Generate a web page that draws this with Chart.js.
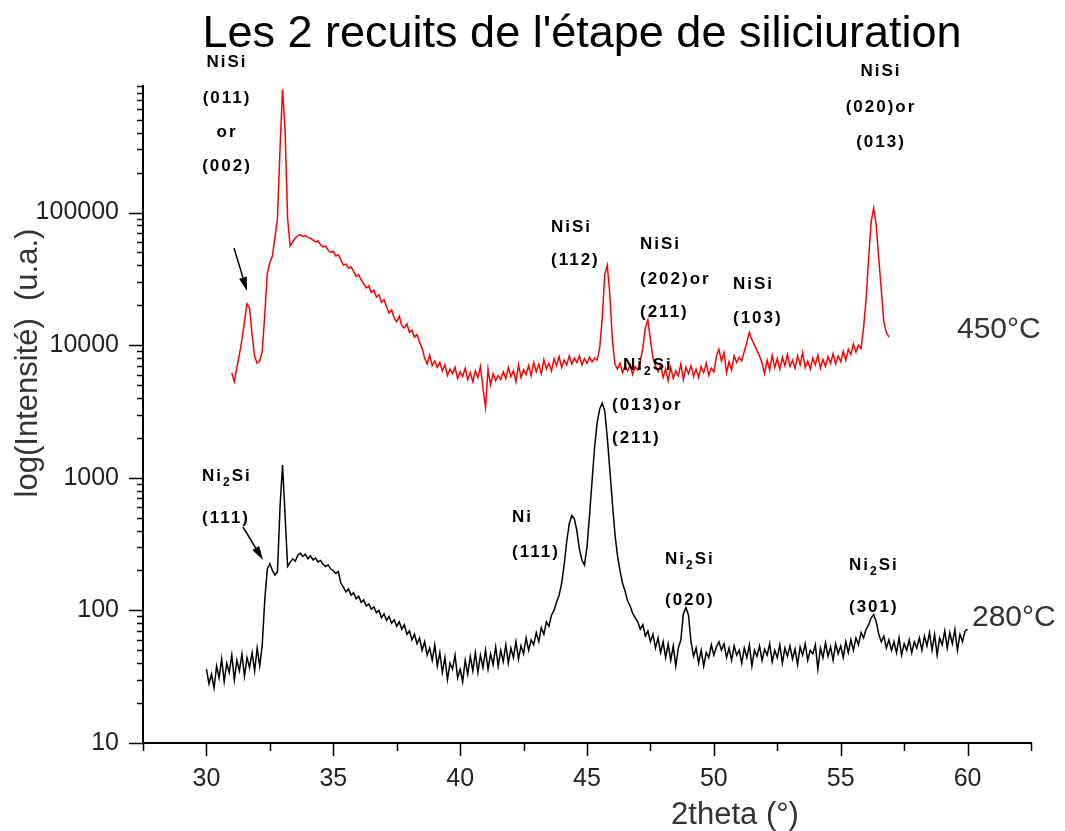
<!DOCTYPE html>
<html>
<head>
<meta charset="utf-8">
<script src="https://cdn.jsdelivr.net/npm/chart.js@4/dist/chart.umd.min.js"></script>
<style>
  html, body { margin: 0; padding: 0; background: #fff; }
  #wrap { width: 1065px; height: 831px; }
</style>
</head>
<body>
<div id="wrap"><canvas id="c" width="1065" height="831"></canvas></div>
<script>
// 2theta scan positions (°) and intensities (u.a.) for the two anneals
const twoTheta450 = [
  31.0,31.1,31.2,31.3,31.4,31.5,31.6,31.7,31.8,31.9,
  32.0,32.1,32.2,32.3,32.4,32.5,32.6,32.7,32.8,32.9,
  33.0,33.1,33.2,33.3,33.4,33.5,33.6,33.7,33.8,33.9,
  34.0,34.1,34.2,34.3,34.4,34.5,34.6,34.7,34.8,34.9,
  35.0,35.1,35.2,35.3,35.4,35.5,35.6,35.7,35.8,35.9,
  36.0,36.1,36.2,36.3,36.4,36.5,36.6,36.7,36.8,36.9,
  37.0,37.1,37.2,37.3,37.4,37.5,37.6,37.7,37.8,37.9,
  38.0,38.1,38.2,38.3,38.4,38.5,38.6,38.7,38.8,38.9,
  39.0,39.1,39.2,39.3,39.4,39.5,39.6,39.7,39.8,39.9,
  40.0,40.1,40.2,40.3,40.4,40.5,40.6,40.7,40.8,40.9,
  41.0,41.1,41.2,41.3,41.4,41.5,41.6,41.7,41.8,41.9,
  42.0,42.1,42.2,42.3,42.4,42.5,42.6,42.7,42.8,42.9,
  43.0,43.1,43.2,43.3,43.4,43.5,43.6,43.7,43.8,43.9,
  44.0,44.1,44.2,44.3,44.4,44.5,44.6,44.7,44.8,44.9,
  45.0,45.1,45.2,45.3,45.4,45.5,45.6,45.7,45.8,45.9,
  46.0,46.1,46.2,46.3,46.4,46.5,46.6,46.7,46.8,46.9,
  47.0,47.1,47.2,47.3,47.4,47.5,47.6,47.7,47.8,47.9,
  48.0,48.1,48.2,48.3,48.4,48.5,48.6,48.7,48.8,48.9,
  49.0,49.1,49.2,49.3,49.4,49.5,49.6,49.7,49.8,49.9,
  50.0,50.1,50.2,50.3,50.4,50.5,50.6,50.7,50.8,50.9,
  51.0,51.1,51.2,51.3,51.4,51.5,51.6,51.7,51.8,51.9,
  52.0,52.1,52.2,52.3,52.4,52.5,52.6,52.7,52.8,52.9,
  53.0,53.1,53.2,53.3,53.4,53.5,53.6,53.7,53.8,53.9,
  54.0,54.1,54.2,54.3,54.4,54.5,54.6,54.7,54.8,54.9,
  55.0,55.1,55.2,55.3,55.4,55.5,55.6,55.7,55.8,55.9,
  56.0,56.1,56.2,56.3,56.4,56.5,56.6,56.7,56.8,56.9
];
const intensity450 = [
  6200,5300,6800,8500,11000,15000,20500,19000,12000,8200,
  7300,7600,9000,17000,35000,42000,47000,65000,90000,300000,
  850000,420000,90000,56000,60000,64000,67000,68000,66000,67000,
  65000,64000,62000,60000,61000,57000,55000,56000,52000,50000,
  51000,47000,48000,44000,40000,41000,38000,39000,36000,33000,
  34000,31000,29000,27000,28000,25000,26000,23000,24000,21000,
  22000,19500,17500,18500,16000,15000,16500,14000,13500,14500,
  12500,13000,11500,12000,10500,9500,8000,7200,8400,7000,
  7600,6800,7400,6400,7100,5900,6600,6100,6800,5600,
  6300,5800,6700,5500,6200,5300,6400,5700,6900,4700,
  3400,6600,5000,6100,5400,5900,5500,6300,5600,6800,
  5800,6400,5300,7100,5700,6500,6000,7000,5900,7400,
  6300,7200,6100,7800,6600,7300,6400,7900,7000,8200,
  6800,7700,7100,8300,7200,8000,7400,8300,7100,7900,
  7300,8100,7500,8000,7700,9500,16000,34000,40000,24000,
  11000,7200,6600,7300,6200,7000,6400,7100,6000,6900,
  6500,7600,9500,13500,15500,11000,8000,7000,6300,7100,
  5700,6600,5400,6800,5600,6400,5900,7200,5500,6800,
  6100,7000,5800,6600,5700,6900,6200,7300,5900,6700,
  6300,8200,9300,7600,8800,6200,7500,6500,8300,7400,
  8100,7600,9000,10500,12500,11000,10000,9100,8300,7300,
  6100,7700,6500,8400,6800,7900,6600,8100,7000,8500,
  6900,7700,6700,8300,7100,8800,6800,7600,6600,8000,
  7100,8400,6700,7800,6900,8200,7300,8600,7200,8300,
  7500,9000,7700,9300,8500,10200,8900,10000,9400,13500,
  22000,45000,85000,108000,80000,45000,26000,15000,12500,11500
];
const twoTheta280 = [
  30.0,30.1,30.2,30.3,30.4,30.5,30.6,30.7,30.8,30.9,
  31.0,31.1,31.2,31.3,31.4,31.5,31.6,31.7,31.8,31.9,
  32.0,32.1,32.2,32.3,32.4,32.5,32.6,32.7,32.8,32.9,
  33.0,33.1,33.2,33.3,33.4,33.5,33.6,33.7,33.8,33.9,
  34.0,34.1,34.2,34.3,34.4,34.5,34.6,34.7,34.8,34.9,
  35.0,35.1,35.2,35.3,35.4,35.5,35.6,35.7,35.8,35.9,
  36.0,36.1,36.2,36.3,36.4,36.5,36.6,36.7,36.8,36.9,
  37.0,37.1,37.2,37.3,37.4,37.5,37.6,37.7,37.8,37.9,
  38.0,38.1,38.2,38.3,38.4,38.5,38.6,38.7,38.8,38.9,
  39.0,39.1,39.2,39.3,39.4,39.5,39.6,39.7,39.8,39.9,
  40.0,40.1,40.2,40.3,40.4,40.5,40.6,40.7,40.8,40.9,
  41.0,41.1,41.2,41.3,41.4,41.5,41.6,41.7,41.8,41.9,
  42.0,42.1,42.2,42.3,42.4,42.5,42.6,42.7,42.8,42.9,
  43.0,43.1,43.2,43.3,43.4,43.5,43.6,43.7,43.8,43.9,
  44.0,44.1,44.2,44.3,44.4,44.5,44.6,44.7,44.8,44.9,
  45.0,45.1,45.2,45.3,45.4,45.5,45.6,45.7,45.8,45.9,
  46.0,46.1,46.2,46.3,46.4,46.5,46.6,46.7,46.8,46.9,
  47.0,47.1,47.2,47.3,47.4,47.5,47.6,47.7,47.8,47.9,
  48.0,48.1,48.2,48.3,48.4,48.5,48.6,48.7,48.8,48.9,
  49.0,49.1,49.2,49.3,49.4,49.5,49.6,49.7,49.8,49.9,
  50.0,50.1,50.2,50.3,50.4,50.5,50.6,50.7,50.8,50.9,
  51.0,51.1,51.2,51.3,51.4,51.5,51.6,51.7,51.8,51.9,
  52.0,52.1,52.2,52.3,52.4,52.5,52.6,52.7,52.8,52.9,
  53.0,53.1,53.2,53.3,53.4,53.5,53.6,53.7,53.8,53.9,
  54.0,54.1,54.2,54.3,54.4,54.5,54.6,54.7,54.8,54.9,
  55.0,55.1,55.2,55.3,55.4,55.5,55.6,55.7,55.8,55.9,
  56.0,56.1,56.2,56.3,56.4,56.5,56.6,56.7,56.8,56.9,
  57.0,57.1,57.2,57.3,57.4,57.5,57.6,57.7,57.8,57.9,
  58.0,58.1,58.2,58.3,58.4,58.5,58.6,58.7,58.8,58.9,
  59.0,59.1,59.2,59.3,59.4,59.5,59.6,59.7,59.8,59.9,
  60.0
];
const intensity280 = [
  36,28,33,26,38,31,43,29,40,34,
  46,30,42,35,47,32,44,37,48,35,
  52,38,55,120,205,225,200,185,195,600,
  1250,520,215,230,245,235,260,270,255,265,
  245,258,240,248,232,238,222,215,220,205,
  200,190,196,160,150,138,145,130,136,122,
  128,115,120,108,112,102,106,96,100,88,
  94,84,90,80,85,76,82,72,78,66,
  70,60,66,56,62,50,58,46,52,42,
  55,38,48,34,44,30,40,36,46,31,
  36,29,42,33,45,35,48,34,46,37,
  50,36,47,39,53,38,50,41,55,40,
  52,44,58,43,54,47,62,50,60,55,
  68,58,74,66,82,76,92,100,115,130,
  160,220,330,450,520,490,400,290,240,220,
  300,520,950,1700,2600,3300,3650,3200,2000,1150,
  650,380,260,200,160,140,118,108,95,88,
  82,72,78,64,70,58,66,52,62,48,
  58,44,56,42,54,38,52,60,95,105,
  92,58,45,52,40,50,38,48,44,55,
  46,53,58,50,56,44,52,42,54,46,
  50,40,52,44,55,38,50,45,54,42,
  51,46,56,41,50,44,55,40,52,45,
  54,43,51,39,53,46,56,42,50,47,
  55,36,52,44,57,45,53,42,56,47,
  54,44,58,48,60,50,62,55,68,62,
  72,78,88,93,82,66,58,64,52,60,
  50,58,48,62,46,56,50,60,48,58,
  52,62,50,64,54,68,50,66,46,62,
  55,70,52,68,56,72,50,66,58,70,
  72
];

// axis tick positions and the ones carrying a label
const xTickValues = [27.5,30,32.5,35,37.5,40,42.5,45,47.5,50,52.5,55,57.5,60,62.5];
const xLabelValues = [30,35,40,45,50,55,60];
const yTickValues = [
  10,20,30,40,50,60,70,80,90,
  100,200,300,400,500,600,700,800,900,
  1000,2000,3000,4000,5000,6000,7000,8000,9000,
  10000,20000,30000,40000,50000,60000,70000,80000,90000,
  100000,200000,300000,400000,500000,600000,700000,800000,900000
];
const yLabelValues = [10,100,1000,10000,100000];

const titleText = "Les 2 recuits de l'étape de siliciuration";
const xTitleText = '2theta (°)';
const yTitleText = 'log(Intensité)  (u.a.)';
const seriesLabels = ['450°C', '280°C'];

// peak indexations: lines of text, "_2" marks a subscript 2
const peakNotes = [
  { align: 'center', x: 226, lines: [['NiSi', 62], ['(011)', 98], ['or', 132], ['(002)', 166]] },
  { align: 'left', x: 551, lines: [['NiSi', 227], ['(112)', 260]] },
  { align: 'left', x: 640, lines: [['NiSi', 244], ['(202)or', 279], ['(211)', 312]] },
  { align: 'left', x: 733, lines: [['NiSi', 284], ['(103)', 318]] },
  { align: 'center', x: 880, lines: [['NiSi', 71], ['(020)or', 107], ['(013)', 142]] },
  { align: 'left', x: 623, lines: [['Ni_2Si', 365]] },
  { align: 'left', x: 612, lines: [['(013)or', 405], ['(211)', 438]] },
  { align: 'left', x: 202, lines: [['Ni_2Si', 476], ['(111)', 518]] },
  { align: 'left', x: 512, lines: [['Ni', 517], ['(111)', 552]] },
  { align: 'left', x: 665, lines: [['Ni_2Si', 559], ['(020)', 600]] },
  { align: 'left', x: 849, lines: [['Ni_2Si', 565], ['(301)', 607]] }
];
const arrows = [
  { from: [234, 248], to: [247, 291] },
  { from: [243, 527], to: [263, 560] }
];

const FONT = '"Liberation Sans", Arial, sans-serif';
const NOTE_SPACING = 2;

function drawNote(ctx, text, x, y, align) {
  const parts = text.split('_');
  const big = 'bold 17px ' + FONT;
  const small = 'bold 12px ' + FONT;
  ctx.letterSpacing = NOTE_SPACING + 'px';
  const segs = [];
  parts.forEach((p, i) => {
    if (i > 0) {
      segs.push({ t: p[0], font: small, dy: 7 });
      p = p.slice(1);
    }
    if (p) segs.push({ t: p, font: big, dy: 0 });
  });
  let total = 0;
  segs.forEach(s => { ctx.font = s.font; s.w = ctx.measureText(s.t).width; total += s.w; });
  total -= NOTE_SPACING;
  let cx = align === 'center' ? x - total / 2 : x;
  ctx.textAlign = 'left';
  ctx.textBaseline = 'middle';
  segs.forEach(s => { ctx.font = s.font; ctx.fillText(s.t, cx, y + s.dy); cx += s.w; });
  ctx.letterSpacing = '0px';
}

const decor = {
  id: 'decor',
  afterDraw(chart) {
    const { ctx, chartArea: a, scales: { x, y } } = chart;
    ctx.save();
    // tick marks: long for labelled values, short otherwise
    ctx.strokeStyle = '#000';
    ctx.lineWidth = 1.5;
    ctx.beginPath();
    x.ticks.forEach(t => {
      const px = Math.round(x.getPixelForValue(t.value)) + 0.5;
      const len = xLabelValues.includes(t.value) ? 13 : 8;
      ctx.moveTo(px, a.bottom);
      ctx.lineTo(px, a.bottom + len);
    });
    y.ticks.forEach(t => {
      const py = Math.round(y.getPixelForValue(t.value)) + 0.5;
      const len = yLabelValues.includes(t.value) ? 14 : 6;
      ctx.moveTo(a.left, py);
      ctx.lineTo(a.left - len, py);
    });
    ctx.stroke();

    // chart title
    ctx.fillStyle = '#000';
    ctx.font = '45px ' + FONT;
    ctx.textAlign = 'center';
    ctx.textBaseline = 'alphabetic';
    ctx.fillText(titleText, 582, 47);

    // axis titles
    ctx.fillStyle = '#333';
    ctx.font = '31px ' + FONT;
    ctx.fillText(xTitleText, 735, 824);
    ctx.save();
    ctx.translate(37, 363);
    ctx.rotate(-Math.PI / 2);
    ctx.fillText(yTitleText, 0, 0);
    ctx.restore();

    // curve labels
    ctx.font = '30px ' + FONT;
    ctx.textAlign = 'left';
    ctx.textBaseline = 'middle';
    ctx.fillText(seriesLabels[0], 957, 330);
    ctx.fillText(seriesLabels[1], 972, 618);

    // peak indexations
    ctx.fillStyle = '#000';
    peakNotes.forEach(n => n.lines.forEach(([t, ly]) => drawNote(ctx, t, n.x, ly, n.align)));

    // arrows pointing at the small peaks
    arrows.forEach(({ from, to }) => {
      const ang = Math.atan2(to[1] - from[1], to[0] - from[0]);
      const hl = 14, hw = 4;
      const bx = to[0] - hl * Math.cos(ang), by = to[1] - hl * Math.sin(ang);
      ctx.strokeStyle = '#000';
      ctx.lineWidth = 1.5;
      ctx.beginPath();
      ctx.moveTo(from[0], from[1]);
      ctx.lineTo(bx, by);
      ctx.stroke();
      ctx.beginPath();
      ctx.moveTo(to[0], to[1]);
      ctx.lineTo(bx + hw * Math.sin(ang), by - hw * Math.cos(ang));
      ctx.lineTo(bx - hw * Math.sin(ang), by + hw * Math.cos(ang));
      ctx.closePath();
      ctx.fill();
    });
    ctx.restore();
  }
};

const toPoints = (xs, ys) => xs.map((t, i) => ({ x: t, y: ys[i] }));

new Chart(document.getElementById('c'), {
  type: 'line',
  data: {
    datasets: [
      { label: seriesLabels[0], data: toPoints(twoTheta450, intensity450), borderColor: '#ff0000', borderWidth: 1.5, pointRadius: 0, fill: false, tension: 0 },
      { label: seriesLabels[1], data: toPoints(twoTheta280, intensity280), borderColor: '#000000', borderWidth: 1.5, pointRadius: 0, fill: false, tension: 0 }
    ]
  },
  options: {
    responsive: false,
    animation: false,
    devicePixelRatio: 1,
    layout: { padding: { left: 0, right: 34, top: 86, bottom: 0 } },
    plugins: { legend: { display: false }, tooltip: { enabled: false }, title: { display: false } },
    scales: {
      x: {
        type: 'linear',
        min: 27.5,
        max: 62.5,
        afterBuildTicks: s => { s.ticks = xTickValues.map(v => ({ value: v })); },
        afterFit: s => { s.height = 88; },
        grid: { display: false, drawTicks: false },
        border: { display: true, color: '#000', width: 2 },
        ticks: {
          autoSkip: false, maxRotation: 0, minRotation: 0, padding: 21,
          color: '#222', font: { family: FONT, size: 25 },
          callback: v => xLabelValues.includes(v) ? String(v) : ''
        }
      },
      y: {
        type: 'logarithmic',
        min: 10,
        max: 900000,
        afterBuildTicks: s => { s.ticks = yTickValues.map(v => ({ value: v })); },
        afterFit: s => { s.width = 143; },
        grid: { display: false, drawTicks: false },
        border: { display: true, color: '#000', width: 2 },
        ticks: {
          autoSkip: false, padding: 24,
          color: '#222', font: { family: FONT, size: 25 },
          callback: v => yLabelValues.includes(v) ? String(v) : ''
        }
      }
    }
  },
  plugins: [decor]
});
</script>
</body>
</html>
